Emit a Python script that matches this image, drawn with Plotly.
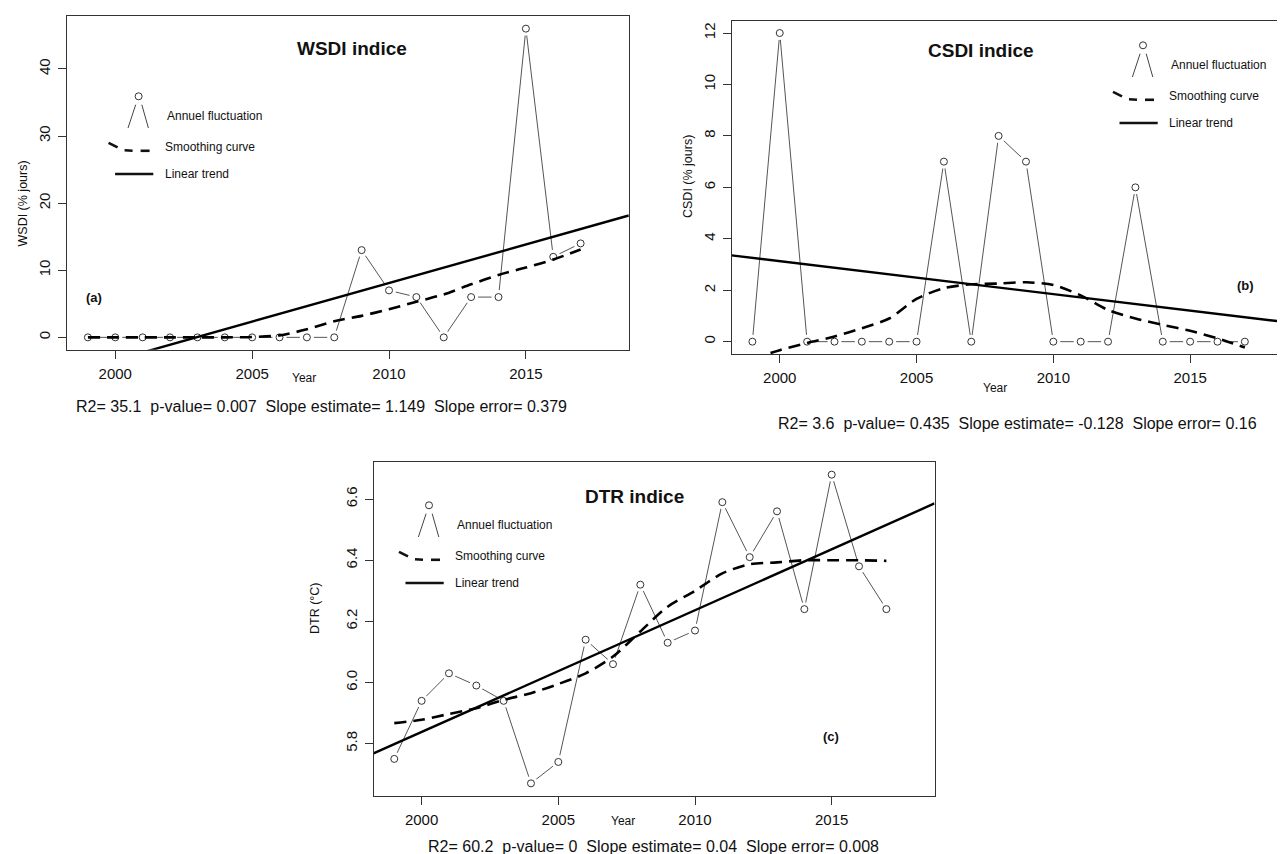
import numpy as np
import plotly.graph_objects as go

# ---------------- data ----------------
years = list(range(1999, 2018))

wsdi = [0, 0, 0, 0, 0, 0, 0, 0, 0, 0, 13, 7, 6, 0, 6, 6, 46, 12, 14]
wsdi_smooth = [0, 0, 0, 0, 0, 0, 0.05, 0.3, 1.2, 2.4, 3.2, 4.2, 5.3, 6.4, 7.9, 9.3, 10.4, 11.6, 13.1]

csdi = [0, 12, 0, 0, 0, 0, 0, 7, 0, 8, 7, 0, 0, 0, 6, 0, 0, 0, 0]
csdi_smooth = [-0.68, -0.33, -0.05, 0.2, 0.52, 0.9, 1.66, 2.08, 2.23, 2.26, 2.31, 2.2, 1.8, 1.23, 0.9, 0.65, 0.42, 0.13, -0.23]

dtr = [5.75, 5.94, 6.03, 5.99, 5.94, 5.67, 5.74, 6.14, 6.06, 6.32, 6.13, 6.17, 6.59, 6.41, 6.56, 6.24, 6.68, 6.38, 6.24]
dtr_smooth = [5.867, 5.878, 5.897, 5.916, 5.943, 5.965, 5.995, 6.03, 6.085, 6.167, 6.248, 6.30, 6.357, 6.387, 6.393, 6.40, 6.40, 6.40, 6.398]

x_ticks = [2000, 2005, 2010, 2015]
wsdi_ticks = [0, 10, 20, 30, 40]
csdi_ticks = [0, 2, 4, 6, 8, 10, 12]
dtr_ticks = [5.8, 6.0, 6.2, 6.4, 6.6]

titles = ["WSDI indice", "CSDI indice", "DTR indice"]
panel_tags = ["(a)", "(b)", "(c)"]
y_titles = ["WSDI (% jours)", "CSDI (% jours)", "DTR (°C)"]
stats = [
    "R2= 35.1  p-value= 0.007  Slope estimate= 1.149  Slope error= 0.379",
    "R2= 3.6  p-value= 0.435  Slope estimate= -0.128  Slope error= 0.16",
    "R2= 60.2  p-value= 0  Slope estimate= 0.04  Slope error= 0.008",
]
legend_labels = ["Annuel fluctuation", "Smoothing curve", "Linear trend"]

# ---------------- layout helpers ----------------
W, H = 1285, 854
FONT = "Liberation Sans, Arial, sans-serif"


def px(x):
    return min(max(x / W, 0), 1)


def py(y):
    return 1 - y / H


def pad_range(vals):
    lo, hi = min(vals), max(vals)
    d = (hi - lo) * 0.04
    return [lo - d, hi + d]


x_range = pad_range([1999, 2018])

panels = [
    dict(series=wsdi, smooth=wsdi_smooth, ticks=wsdi_ticks, fmt="d",
         box=(59.1, 620.8, 8.3, 341.7),
         title=(343.8, 40), tag=(86, 289), year=(296, 370), stat=(313, 399),
         ytitle=(14.5, 196), legend=(130.6, 88.3)),
    dict(series=csdi, smooth=csdi_smooth, ticks=csdi_ticks, fmt="d",
         box=(723.6, 1285.0, 12.7, 346.0),
         title=(972.5, 42), tag=(1237, 277), year=(987, 380), stat=(1009, 415),
         ytitle=(680, 169), legend=(1135, 37.3)),
    dict(series=dtr, smooth=dtr_smooth, ticks=dtr_ticks, fmt=".1f",
         box=(365.5, 926.5, 454.3, 787.7),
         title=(626, 488), tag=(823, 728), year=(614.6, 813), stat=(645.7, 838),
         ytitle=(307, 600), legend=(421, 497.3)),
]

fig = go.Figure()
annotations = []
shapes = []


def ann(text, x, y, size, xanchor="center", angle=0):
    annotations.append(dict(
        text=text, x=px(x), y=py(y), xref="paper", yref="paper",
        xanchor=xanchor, yanchor="middle", showarrow=False, textangle=angle,
        font=dict(family=FONT, size=size, color="#111")))


def seg(x0, y0, x1, y1, width, color="#111"):
    shapes.append(dict(type="line", xref="paper", yref="paper",
                       x0=px(x0), y0=py(y0), x1=px(x1), y1=py(y1),
                       line=dict(color=color, width=width)))


layout_axes = {}
for i, p in enumerate(panels):
    n = "" if i == 0 else str(i + 1)
    xa, ya = "x" + n, "y" + n
    x0, x1, y0, y1 = p["box"]
    yr = pad_range(p["series"])

    # annual fluctuation line (R type "b")
    fig.add_trace(go.Scatter(x=years, y=p["series"], mode="lines", xaxis=xa, yaxis=ya,
                             line=dict(color="#555", width=1), showlegend=False,
                             hoverinfo="skip"))
    # gaps around points
    fig.add_trace(go.Scatter(x=years, y=p["series"], mode="markers", xaxis=xa, yaxis=ya,
                             marker=dict(color="white", size=14, line=dict(width=0)),
                             showlegend=False, hoverinfo="skip"))
    # open circles
    fig.add_trace(go.Scatter(x=years, y=p["series"], mode="markers", xaxis=xa, yaxis=ya,
                             marker=dict(color="rgba(255,255,255,0)", size=7,
                                         line=dict(color="#333", width=1)),
                             showlegend=False))
    # smoothing curve
    fig.add_trace(go.Scatter(x=years, y=p["smooth"], mode="lines", xaxis=xa, yaxis=ya,
                             line=dict(color="black", width=2.6, dash="12px,7px",
                                       shape="spline", smoothing=0.8),
                             showlegend=False))
    # linear trend (least squares, drawn across the whole plot as abline)
    slope, icpt = np.polyfit(years, p["series"], 1)
    tx = np.array(x_range)
    fig.add_trace(go.Scatter(x=tx, y=icpt + slope * tx, mode="lines", xaxis=xa, yaxis=ya,
                             line=dict(color="black", width=2.4), showlegend=False))

    axis_common = dict(showline=True, linecolor="#333", linewidth=1, mirror=True,
                       ticks="outside", ticklen=8, tickwidth=1, tickcolor="#333",
                       showgrid=False, zeroline=False,
                       tickfont=dict(family=FONT, size=15, color="#111"))
    layout_axes["xaxis" + n] = dict(axis_common, domain=[px(x0), px(x1)], range=x_range,
                                    tickvals=x_ticks, anchor=ya, ticklabelstandoff=2)
    layout_axes["yaxis" + n] = dict(axis_common, domain=[py(y1), py(y0)], range=yr,
                                    tickvals=p["ticks"], tickformat=p["fmt"],
                                    tickangle=-90, anchor=xa, ticklabelstandoff=2)

    ann("<b>%s</b>" % titles[i], *p["title"], 19)
    ann("<b>%s</b>" % panel_tags[i], *p["tag"], 13)
    ann("Year", *p["year"], 12)
    ann(stats[i], *p["stat"], 16)
    ann(y_titles[i], *p["ytitle"], 12.5, angle=-90)

    # pasted legend
    cx, cy = p["legend"]
    shapes.append(dict(type="circle", xref="paper", yref="paper",
                       x0=px(cx - 3.5), x1=px(cx + 3.5), y0=py(cy + 3.5), y1=py(cy - 3.5),
                       line=dict(color="#333", width=1)))
    seg(cx - 10.6, cy + 31.7, cx - 2.9, cy + 8.4, 1, "#444")
    seg(cx + 3.2, cy + 8.4, cx + 9.8, cy + 31.7, 1, "#444")
    seg(cx - 30, cy + 46.5, cx - 21, cy + 51, 2.6)
    seg(cx - 14, cy + 54, cx - 6, cy + 54.5, 2.6)
    seg(cx + 2, cy + 54.5, cx + 11, cy + 54.5, 2.6)
    seg(cx - 23.5, cy + 77.7, cx + 14.7, cy + 77.7, 2.4)
    ann(legend_labels[0], cx + 26, cy + 19.5, 12, xanchor="left")
    ann(legend_labels[1], cx + 24, cy + 50.5, 12, xanchor="left")
    ann(legend_labels[2], cx + 24, cy + 77.7, 12, xanchor="left")

fig.update_layout(
    width=W, height=H, margin=dict(l=0, r=0, t=0, b=0),
    paper_bgcolor="white", plot_bgcolor="white", showlegend=False,
    annotations=annotations, shapes=shapes, **layout_axes)

fig.write_html("out.html")
